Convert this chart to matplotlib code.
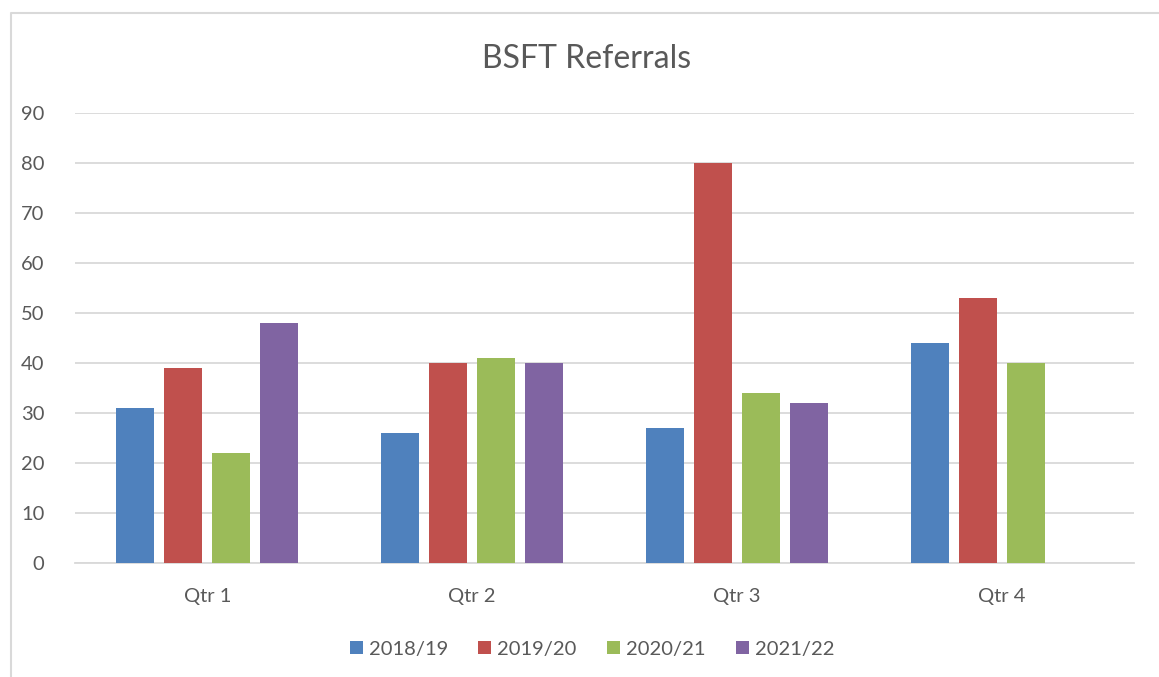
import numpy as np
import matplotlib
matplotlib.use("Agg")
import matplotlib.pyplot as plt
from matplotlib.lines import Line2D

quarters = ["Qtr 1", "Qtr 2", "Qtr 3", "Qtr 4"]
years = ["2018/19", "2019/20", "2020/21", "2021/22"]
v_1819 = [31, 26, 27, 44]
v_1920 = [39, 40, 80, 53]
v_2021 = [22, 41, 34, 40]
v_2122 = [48, 40, 32, np.nan]
colors = ["#4f81bd", "#c0504d", "#9bbb59", "#8064a2"]

plt.rcParams["font.family"] = ["Lato", "DejaVu Sans"]
txt = "#595959"
grid = "#d9d9d9"

fig = plt.figure(figsize=(11.59, 6.77), dpi=100)
ax = fig.add_axes([75 / 1159, 1 - 563 / 677, (1134 - 75) / 1159, 450 / 677])

x = np.arange(len(quarters))
step = 48 / 265
width = 38 / 265
series = [v_1819, v_1920, v_2021, v_2122]
for i, vals in enumerate(series):
    ax.bar(x + (i - 1.5) * step, vals, width, color=colors[i], label=years[i], zorder=3)

ax.set_xlim(-0.5, 3.5)
ax.set_ylim(0, 90)
ax.set_yticks(range(0, 91, 10))
ax.yaxis.grid(True, color=grid, linewidth=1.3, zorder=0)
ax.set_xticks(x)
ax.set_xticklabels(quarters)
ax.tick_params(axis="both", length=0, labelsize=14.5, colors=txt)
ax.tick_params(axis="y", pad=22)
ax.tick_params(axis="x", pad=18)
for s in ["top", "right", "left"]:
    ax.spines[s].set_visible(False)
ax.spines["bottom"].set_color(grid)
ax.spines["bottom"].set_linewidth(1.3)

fig.text(587 / 1159, 1 - 59 / 677, "BSFT Referrals", ha="center", va="center",
         fontsize=23, color=txt)

fig.legend(loc="center", bbox_to_anchor=(592 / 1159, 1 - 649 / 677), ncol=4,
           frameon=False, fontsize=14.5, handlelength=0.65, handleheight=0.65,
           handletextpad=0.3, columnspacing=1.5, labelcolor=txt)

# chart border (left and top edges visible)
fig.add_artist(Line2D([11 / 1159, 11 / 1159, 1.0], [0.0, 1 - 13 / 677, 1 - 13 / 677],
                      transform=fig.transFigure, color=grid, linewidth=1.5))

plt.savefig("out.png", dpi=100)
